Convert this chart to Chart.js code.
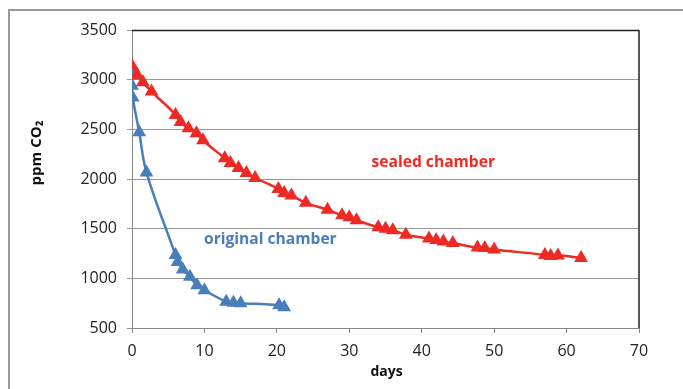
<!DOCTYPE html>
<html>
<head>
<meta charset="utf-8">
<script src="https://cdn.jsdelivr.net/npm/chart.js@4.4.1/dist/chart.umd.min.js"></script>
<style>
  html, body { margin: 0; padding: 0; background: #fff; }
  #wrap { position: relative; width: 683px; height: 389px; }
  #frame {
    position: absolute; left: 8px; top: 9px; right: 0; bottom: 0;
    border-left: 2px solid #9a9a9a; border-top: 2px solid #9a9a9a;
    pointer-events: none;
  }
</style>
</head>
<body>
<div id="wrap">
  <canvas id="chart" width="683" height="389"></canvas>
  <div id="frame"></div>
</div>
<script>
// sealed chamber (red)
const sealedDays = [0, 0.7, 1.5, 2.7, 6, 6.7, 7.8, 8.9, 9.8, 12.8, 13.6, 14.7, 15.8, 17, 20.2, 21, 22, 24, 27, 29, 30, 31, 34, 35, 36, 37.8, 41, 42, 43, 44.3, 47.7, 48.7, 50, 57, 57.8, 58.8, 62];
const sealedPpm = [3140, 3050, 2975, 2880, 2645, 2575, 2510, 2460, 2390, 2210, 2160, 2110, 2060, 2010, 1900, 1860, 1835, 1760, 1690, 1635, 1615, 1585, 1515, 1500, 1485, 1440, 1400, 1385, 1370, 1355, 1310, 1305, 1290, 1235, 1225, 1230, 1205];

// original chamber (blue)
const originalDays = [0, 0, 0.1, 1, 2, 6, 6.3, 7, 8, 9, 10, 13, 14, 15, 20.3, 21];
const originalPpm = [3040, 2940, 2820, 2470, 2065, 1235, 1165, 1090, 1015, 930, 880, 765, 755, 750, 730, 710];

const xTicks = [0, 10, 20, 30, 40, 50, 60, 70];
const yTicks = [500, 1000, 1500, 2000, 2500, 3000, 3500];

const RED = "#ee2a24";
const BLUE = "#4a7ebb";

function toPoints(xs, ys) {
  return xs.map((x, i) => ({ x: x, y: ys[i] }));
}

const labels = [
  { text: "sealed chamber", x: 41.6, y: 2170, color: RED },
  { text: "original chamber", x: 19.1, y: 1386, color: BLUE },
];

const extras = {
  id: "extras",
  afterDraw(chart) {
    const { ctx, chartArea, scales } = chart;
    ctx.save();
    // black border on top and right of plot
    ctx.strokeStyle = "#222";
    ctx.lineWidth = 1.5;
    ctx.beginPath();
    ctx.moveTo(chartArea.left, chartArea.top + 0.5);
    ctx.lineTo(chartArea.right, chartArea.top + 0.5);
    ctx.lineTo(chartArea.right, chartArea.bottom);
    ctx.stroke();

    ctx.font = "bold 15.6px 'Open Sans'";
    ctx.textAlign = "center";
    ctx.textBaseline = "middle";
    labels.forEach((l) => {
      ctx.fillStyle = l.color;
      ctx.fillText(l.text, scales.x.getPixelForValue(l.x), scales.y.getPixelForValue(l.y));
    });

    // axis titles
    ctx.fillStyle = "#111";
    ctx.font = "bold 14px 'Open Sans'";
    ctx.fillText("days", (chartArea.left + chartArea.right) / 2 + 1, chartArea.bottom + 44);
    ctx.translate(37, 153);
    ctx.rotate(-Math.PI / 2);
    ctx.font = "bold 15px 'Open Sans'";
    ctx.fillText("ppm CO\u2082", 0, 0);
    ctx.restore();
  },
};

const tickFont = { family: "'Open Sans'", size: 16 };

new Chart(document.getElementById("chart"), {
  type: "scatter",
  data: {
    datasets: [
      {
        label: "sealed chamber",
        data: toPoints(sealedDays, sealedPpm),
        borderColor: RED,
        backgroundColor: RED,
        showLine: true,
        borderWidth: 2.5,
        pointStyle: "triangle",
        pointRadius: 5.5,
        pointHoverRadius: 5.5,
        cubicInterpolationMode: "monotone",
      },
      {
        label: "original chamber",
        data: toPoints(originalDays, originalPpm),
        borderColor: BLUE,
        backgroundColor: BLUE,
        showLine: true,
        borderWidth: 2.5,
        pointStyle: "triangle",
        pointRadius: 5.5,
        pointHoverRadius: 5.5,
        tension: 0.35,
      },
    ],
  },
  options: {
    responsive: false,
    animation: false,
    layout: { padding: { left: 0, right: 44, top: 30, bottom: 0 } },
    plugins: {
      legend: { display: false },
      tooltip: { enabled: false },
    },
    scales: {
      x: {
        type: "linear",
        min: 0,
        max: 70,
        afterFit: (scale) => { scale.height = 61; },
        afterBuildTicks: (scale) => { scale.ticks = xTicks.map((v) => ({ value: v })); },
        border: { color: "#888", width: 1 },
        grid: { drawOnChartArea: false, color: "#888", tickLength: 5 },
        ticks: { color: "#222", font: tickFont, padding: 9, callback: (v) => String(v) },
      },
      y: {
        min: 500,
        max: 3500,
        afterFit: (scale) => { scale.width = 132; },
        afterBuildTicks: (scale) => { scale.ticks = yTicks.map((v) => ({ value: v })); },
        border: { color: "#888", width: 1 },
        grid: { color: "#999", tickLength: 5 },
        ticks: { color: "#222", font: tickFont, padding: 10, callback: (v) => String(v) },
      },
    },
  },
  plugins: [extras],
});
</script>
</body>
</html>
